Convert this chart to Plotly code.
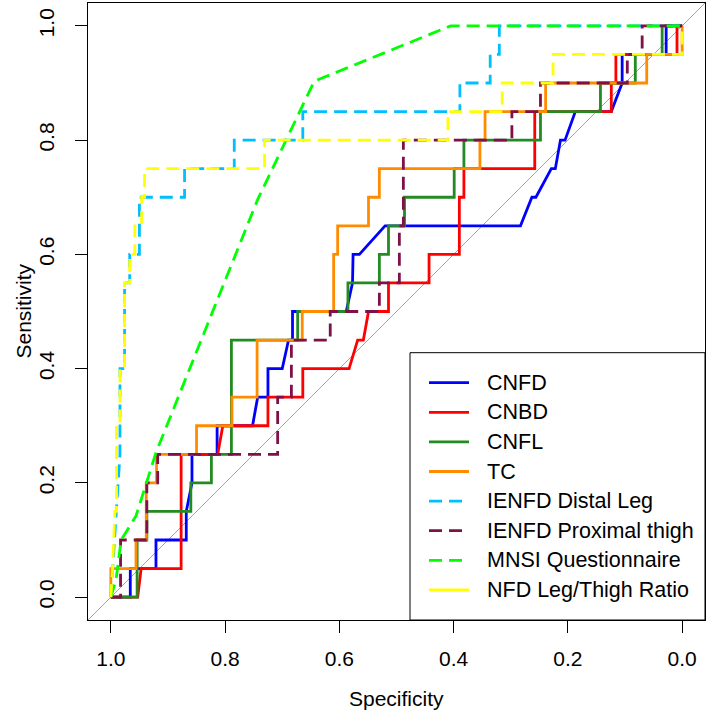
import plotly.graph_objects as go

# ---------------- data (specificity, sensitivity) ----------------
cnfd_spec = [1.0, 0.966, 0.966, 0.921, 0.921, 0.868, 0.868, 0.858, 0.858, 0.814, 0.814, 0.752, 0.743,
             0.725, 0.725, 0.700, 0.689, 0.682, 0.682, 0.588, 0.577, 0.576, 0.565, 0.520, 0.283, 0.263,
             0.256, 0.229, 0.222, 0.213, 0.205, 0.187, 0.124, 0.105, 0.105, 0.028, 0.028, 0.0]
cnfd_sens = [0.0, 0.0, 0.05, 0.05, 0.10, 0.10, 0.15, 0.20, 0.25, 0.25, 0.30, 0.30, 0.35,
             0.35, 0.40, 0.40, 0.45, 0.45, 0.50, 0.50, 0.55, 0.60, 0.60, 0.65, 0.65, 0.70,
             0.70, 0.75, 0.75, 0.80, 0.80, 0.85, 0.85, 0.90, 0.95, 0.95, 1.0, 1.0]

cnbd_spec = [1.0, 0.953, 0.947, 0.877, 0.877, 0.813, 0.804, 0.725, 0.725, 0.664, 0.664, 0.583, 0.568,
             0.558, 0.549, 0.514, 0.514, 0.443, 0.443, 0.390, 0.390, 0.382, 0.382, 0.258, 0.258, 0.124,
             0.124, 0.116, 0.116, 0.009, 0.009, 0.0]
cnbd_sens = [0.0, 0.0, 0.05, 0.05, 0.25, 0.25, 0.30, 0.30, 0.35, 0.35, 0.40, 0.40, 0.45,
             0.45, 0.50, 0.50, 0.55, 0.55, 0.60, 0.60, 0.70, 0.70, 0.75, 0.75, 0.85, 0.85,
             0.90, 0.90, 0.95, 0.95, 1.0, 1.0]

cnfl_spec = [1.0, 0.954, 0.954, 0.937, 0.937, 0.860, 0.860, 0.824, 0.824, 0.789, 0.789, 0.673, 0.673,
             0.585, 0.585, 0.530, 0.530, 0.514, 0.514, 0.486, 0.486, 0.399, 0.399, 0.382, 0.382, 0.248,
             0.248, 0.143, 0.143, 0.082, 0.082, 0.035, 0.035, 0.0]
cnfl_sens = [0.0, 0.0, 0.10, 0.10, 0.15, 0.15, 0.20, 0.20, 0.25, 0.25, 0.45, 0.45, 0.50,
             0.50, 0.55, 0.55, 0.60, 0.60, 0.65, 0.65, 0.70, 0.70, 0.75, 0.75, 0.80, 0.80,
             0.85, 0.85, 0.90, 0.90, 0.95, 0.95, 1.0, 1.0]

tc_spec = [1.0, 1.0, 0.956, 0.956, 0.938, 0.938, 0.920, 0.920, 0.850, 0.850, 0.788, 0.788, 0.744,
           0.744, 0.665, 0.665, 0.610, 0.610, 0.603, 0.603, 0.549, 0.549, 0.530, 0.530, 0.354, 0.354,
           0.345, 0.345, 0.239, 0.239, 0.062, 0.062, 0.0, 0.0]
tc_sens = [0.0, 0.05, 0.05, 0.10, 0.10, 0.20, 0.20, 0.25, 0.25, 0.30, 0.30, 0.35, 0.35,
           0.45, 0.45, 0.50, 0.50, 0.60, 0.60, 0.65, 0.65, 0.70, 0.70, 0.75, 0.75, 0.80,
           0.80, 0.85, 0.85, 0.90, 0.90, 0.95, 0.95, 1.0]

distal_spec = [1.0, 0.99, 0.984, 0.984, 0.976, 0.976, 0.967, 0.967, 0.950, 0.950, 0.871, 0.871,
               0.784, 0.784, 0.664, 0.664, 0.389, 0.389, 0.336, 0.336, 0.320, 0.320, 0.0]
distal_sens = [0.0, 0.15, 0.25, 0.40, 0.40, 0.55, 0.55, 0.60, 0.60, 0.70, 0.70, 0.75,
               0.75, 0.80, 0.80, 0.85, 0.85, 0.90, 0.90, 0.95, 0.95, 1.0, 1.0]

proximal_spec = [1.0, 0.983, 0.983, 0.937, 0.937, 0.918, 0.918, 0.708, 0.708, 0.684, 0.684, 0.616,
                 0.616, 0.530, 0.530, 0.495, 0.495, 0.488, 0.488, 0.298, 0.298, 0.248, 0.248, 0.096,
                 0.096, 0.070, 0.070, 0.0]
proximal_sens = [0.0, 0.0, 0.10, 0.10, 0.20, 0.20, 0.25, 0.25, 0.35, 0.35, 0.45, 0.45,
                 0.50, 0.50, 0.55, 0.55, 0.65, 0.65, 0.80, 0.80, 0.85, 0.85, 0.90, 0.90,
                 0.95, 0.95, 1.0, 1.0]

mnsi_spec = [1.0, 0.991, 0.982, 0.956, 0.921, 0.827, 0.743, 0.644, 0.405, 0.0]
mnsi_sens = [0.0, 0.03, 0.10, 0.142, 0.253, 0.486, 0.696, 0.903, 1.0, 1.0]

ratio_spec = [1.0, 0.997, 0.993, 0.990, 0.990, 0.984, 0.984, 0.976, 0.976, 0.967, 0.967, 0.958,
              0.958, 0.946, 0.946, 0.941, 0.941, 0.731, 0.731, 0.410, 0.410, 0.315, 0.315, 0.226,
              0.226, 0.0, 0.0]
ratio_sens = [0.0, 0.05, 0.15, 0.15, 0.30, 0.30, 0.40, 0.40, 0.55, 0.55, 0.60, 0.60,
              0.65, 0.65, 0.70, 0.70, 0.75, 0.75, 0.80, 0.80, 0.85, 0.85, 0.90, 0.90,
              0.95, 0.95, 1.0]

series_names = ["CNFD", "CNBD", "CNFL", "TC", "IENFD Distal Leg", "IENFD Proximal thigh",
                "MNSI Questionnaire", "NFD Leg/Thigh Ratio"]
series_x = [cnfd_spec, cnbd_spec, cnfl_spec, tc_spec, distal_spec, proximal_spec, mnsi_spec, ratio_spec]
series_y = [cnfd_sens, cnbd_sens, cnfl_sens, tc_sens, distal_sens, proximal_sens, mnsi_sens, ratio_sens]

tick_values = [0.0, 0.2, 0.4, 0.6, 0.8, 1.0]
tick_labels = ["0.0", "0.2", "0.4", "0.6", "0.8", "1.0"]
diag_spec = [1.04, -0.04]
diag_sens = [-0.04, 1.04]
x_title = "Specificity"
y_title = "Sensitivity"

# ---------------- styles ----------------
colors = ["#0000FF", "#FF0000", "#228B22", "#FF8C00", "#00BFFF", "#7D1148", "#00FF00", "#FFFF00"]
DASH = "13px,7px"
line_dash = ["solid"] * 4 + [DASH] * 4
legend_dash = ["solid"] * 4 + [DASH] * 3 + ["solid"]
FONT = "Liberation Sans, Arial, sans-serif"
LW = 2.8

fig = go.Figure()
fig.add_trace(go.Scatter(x=diag_spec, y=diag_sens, mode="lines",
                         line=dict(color="#A6A6A6", width=1), showlegend=False, hoverinfo="skip"))
for xs, ys, c, d, n in zip(series_x, series_y, colors, line_dash, series_names):
    fig.add_trace(go.Scatter(x=xs, y=ys, mode="lines", name=n,
                             line=dict(color=c, width=LW, dash=d), showlegend=False))

# ---------------- layout ----------------
W, H = 709, 713
ML, MR, MT, MB = 88, 4, 3, 93
PW, PH = W - ML - MR, H - MT - MB


def px_x(px):
    return (px - ML) / PW


def px_y(py):
    return (MT + PH - py) / PH


axis_common = dict(
    tickvals=tick_values, ticktext=tick_labels, ticks="outside", ticklen=12, tickwidth=1,
    tickcolor="black", showline=True, mirror=True, linecolor="black", linewidth=1,
    showgrid=False, zeroline=False, automargin=False,
    tickfont=dict(family=FONT, size=21, color="black"),
)
fig.update_xaxes(range=[1.04, -0.04], ticklabelstandoff=8, **axis_common)
fig.update_yaxes(range=[-0.04, 1.04], tickangle=-90, ticklabelstandoff=13, **axis_common)

shapes = [dict(type="rect", xref="paper", yref="paper", x0=px_x(410), x1=1.0, y0=0.0, y1=px_y(352.7),
               line=dict(color="black", width=1), fillcolor="white", layer="above")]
annotations = [
    dict(text=x_title, xref="paper", yref="paper", x=0.5, y=px_y(698), xanchor="center", yanchor="middle",
         showarrow=False, font=dict(family=FONT, size=21, color="black")),
    dict(text=y_title, xref="paper", yref="paper", x=px_x(23), y=0.5, xanchor="center", yanchor="middle",
         textangle=-90, showarrow=False, font=dict(family=FONT, size=21, color="black")),
]
for i, (n, c, d) in enumerate(zip(series_names, colors, legend_dash)):
    yy = px_y(382.7 + 29.6 * i)
    x_end = 462 if d != "solid" else 469
    shapes.append(dict(type="line", xref="paper", yref="paper", x0=px_x(429), x1=px_x(x_end), y0=yy, y1=yy,
                       line=dict(color=c, width=LW, dash=d), layer="above"))
    annotations.append(dict(text=n, xref="paper", yref="paper", x=px_x(485), y=yy, xanchor="left",
                            yanchor="middle", showarrow=False, font=dict(family=FONT, size=21.5, color="black")))

fig.update_layout(width=W, height=H, margin=dict(l=ML, r=MR, t=MT, b=MB),
                  paper_bgcolor="white", plot_bgcolor="white", showlegend=False,
                  shapes=shapes, annotations=annotations, font=dict(family=FONT))

fig.write_html("out.html", config={"displayModeBar": False},
               post_script="document.body.style.margin='0px';document.body.style.overflow='hidden';")
